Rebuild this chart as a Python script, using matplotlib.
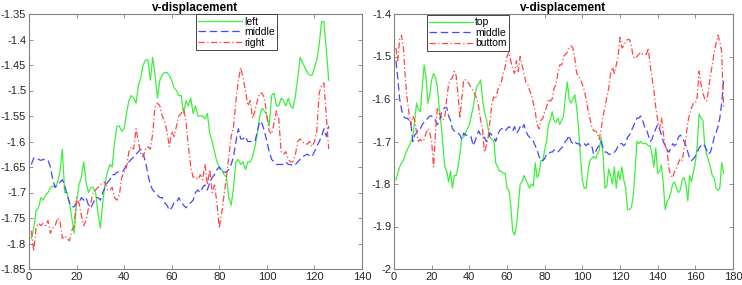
import numpy as np
import matplotlib
matplotlib.use("Agg")
import matplotlib.pyplot as plt

plt.rcParams['font.family'] = ['Liberation Sans', 'DejaVu Sans']

title = "v-displacement"

# ---------------- left panel ----------------
left_labels = ["left", "middle", "right"]
left_green = [-1.79, -1.77, -1.735, -1.73, -1.71, -1.715, -1.705, -1.70, -1.69, -1.687,
              -1.69, -1.68, -1.66, -1.615, -1.70, -1.70, -1.72, -1.75, -1.78, -1.72,
              -1.685, -1.67, -1.64, -1.68, -1.70, -1.69, -1.69, -1.70, -1.74, -1.77,
              -1.72, -1.68, -1.66, -1.645, -1.65, -1.60, -1.57, -1.57, -1.58, -1.575,
              -1.545, -1.52, -1.51, -1.515, -1.525, -1.49, -1.475, -1.45, -1.44, -1.44,
              -1.48, -1.435, -1.47, -1.515, -1.48, -1.47, -1.465, -1.465, -1.47, -1.48,
              -1.495, -1.50, -1.51, -1.51, -1.545, -1.52, -1.53, -1.515, -1.545, -1.53,
              -1.55, -1.55, -1.55, -1.555, -1.545, -1.585, -1.60, -1.62, -1.64, -1.65,
              -1.655, -1.665, -1.67, -1.71, -1.725, -1.69, -1.64, -1.635, -1.645, -1.64,
              -1.655, -1.64, -1.64, -1.63, -1.61, -1.585, -1.55, -1.535, -1.54, -1.55,
              -1.57, -1.51, -1.505, -1.53, -1.53, -1.515, -1.52, -1.53, -1.515, -1.53,
              -1.535, -1.51, -1.475, -1.435, -1.445, -1.455, -1.465, -1.47, -1.47, -1.455,
              -1.44, -1.41, -1.365, -1.365, -1.42, -1.48]
left_blue = [-1.645, -1.632, -1.633, -1.635, -1.637, -1.635, -1.637, -1.637, -1.65, -1.675,
             -1.69, -1.685, -1.68, -1.675, -1.685, -1.705, -1.72, -1.728, -1.728, -1.72,
             -1.72, -1.71, -1.715, -1.71, -1.725, -1.73, -1.72, -1.71, -1.71, -1.715,
             -1.70, -1.69, -1.68, -1.675, -1.665, -1.665, -1.66, -1.66, -1.66, -1.655,
             -1.645, -1.64, -1.635, -1.63, -1.625, -1.62, -1.615, -1.625, -1.64, -1.665,
             -1.685, -1.695, -1.70, -1.705, -1.71, -1.71, -1.72, -1.725, -1.735, -1.73,
             -1.72, -1.72, -1.71, -1.72, -1.725, -1.73, -1.725, -1.72, -1.715, -1.70,
             -1.695, -1.70, -1.69, -1.685, -1.695, -1.68, -1.67, -1.665, -1.655, -1.65,
             -1.66, -1.66, -1.66, -1.655, -1.645, -1.63, -1.60, -1.575, -1.595, -1.595,
             -1.59, -1.60, -1.60, -1.60, -1.60, -1.58, -1.56, -1.565, -1.58, -1.60,
             -1.62, -1.635, -1.64, -1.645, -1.645, -1.645, -1.645, -1.64, -1.645, -1.645,
             -1.648, -1.645, -1.64, -1.635, -1.63, -1.627, -1.625, -1.628, -1.63, -1.62,
             -1.61, -1.60, -1.59, -1.575, -1.59, -1.57]
left_red = [-1.775, -1.815, -1.77, -1.76, -1.765, -1.76, -1.765, -1.755, -1.78, -1.77,
            -1.765, -1.75, -1.755, -1.79, -1.785, -1.79, -1.795, -1.775, -1.765, -1.71,
            -1.72, -1.745, -1.765, -1.755, -1.73, -1.72, -1.70, -1.695, -1.69, -1.685,
            -1.68, -1.68, -1.695, -1.695, -1.69, -1.71, -1.715, -1.705, -1.67, -1.66,
            -1.65, -1.62, -1.61, -1.615, -1.575, -1.60, -1.625, -1.63, -1.615, -1.61,
            -1.615, -1.585, -1.53, -1.525, -1.53, -1.55, -1.56, -1.58, -1.61, -1.58,
            -1.59, -1.57, -1.55, -1.545, -1.535, -1.56, -1.61, -1.65, -1.67, -1.67,
            -1.675, -1.665, -1.675, -1.645, -1.685, -1.655, -1.70, -1.685, -1.72, -1.77,
            -1.74, -1.705, -1.67, -1.63, -1.59, -1.57, -1.52, -1.48, -1.455, -1.475,
            -1.50, -1.53, -1.52, -1.555, -1.54, -1.52, -1.505, -1.505, -1.515, -1.55,
            -1.58, -1.585, -1.565, -1.54, -1.555, -1.62, -1.625, -1.62, -1.635, -1.64,
            -1.64, -1.625, -1.60, -1.595, -1.60, -1.605, -1.605, -1.60, -1.61, -1.60,
            -1.58, -1.505, -1.49, -1.485, -1.55, -1.615]

# ---------------- right panel ----------------
right_labels = ["top", "middle", "buttom"]
right_green = [-1.79, -1.775, -1.76, -1.75, -1.745, -1.73, -1.72, -1.71, -1.70, -1.69,
               -1.65, -1.61, -1.625, -1.63, -1.57, -1.52, -1.55, -1.61, -1.59, -1.555,
               -1.54, -1.55, -1.57, -1.62, -1.66, -1.71, -1.76, -1.77, -1.795, -1.77,
               -1.81, -1.78, -1.78, -1.76, -1.73, -1.69, -1.69, -1.68, -1.67, -1.66,
               -1.64, -1.62, -1.59, -1.57, -1.565, -1.555, -1.60, -1.63, -1.645, -1.67,
               -1.69, -1.695, -1.70, -1.75, -1.76, -1.77, -1.77, -1.775, -1.775, -1.81,
               -1.815, -1.85, -1.91, -1.92, -1.90, -1.85, -1.80, -1.795, -1.78, -1.79,
               -1.80, -1.81, -1.80, -1.805, -1.75, -1.785, -1.775, -1.745, -1.745, -1.72,
               -1.70, -1.66, -1.65, -1.63, -1.65, -1.655, -1.645, -1.66, -1.65, -1.64,
               -1.595, -1.56, -1.60, -1.61, -1.60, -1.59, -1.62, -1.67, -1.735, -1.79,
               -1.81, -1.81, -1.77, -1.745, -1.74, -1.735, -1.74, -1.73, -1.72, -1.69,
               -1.73, -1.81, -1.805, -1.765, -1.78, -1.80, -1.76, -1.81, -1.77, -1.79,
               -1.76, -1.79, -1.81, -1.86, -1.86, -1.855, -1.83, -1.77, -1.70, -1.705,
               -1.70, -1.705, -1.705, -1.705, -1.71, -1.71, -1.73, -1.76, -1.715, -1.775,
               -1.77, -1.755, -1.80, -1.86, -1.84, -1.835, -1.82, -1.80, -1.795, -1.81,
               -1.82, -1.815, -1.79, -1.785, -1.80, -1.84, -1.78, -1.795, -1.77, -1.75,
               -1.71, -1.635, -1.645, -1.65, -1.71, -1.73, -1.745, -1.76, -1.78, -1.785,
               -1.81, -1.815, -1.81, -1.75, -1.775]
right_blue = [-1.51, -1.55, -1.60, -1.625, -1.64, -1.645, -1.645, -1.65, -1.66, -1.70,
              -1.685, -1.68, -1.67, -1.67, -1.66, -1.655, -1.65, -1.645, -1.64, -1.64,
              -1.645, -1.65, -1.66, -1.655, -1.635, -1.625, -1.62, -1.62, -1.64, -1.65,
              -1.67, -1.675, -1.68, -1.68, -1.685, -1.695, -1.68, -1.685, -1.685, -1.685,
              -1.69, -1.71, -1.70, -1.685, -1.675, -1.685, -1.69, -1.69, -1.70, -1.695,
              -1.68, -1.685, -1.69, -1.70, -1.685, -1.675, -1.67, -1.67, -1.675, -1.67,
              -1.665, -1.67, -1.675, -1.665, -1.68, -1.675, -1.665, -1.67, -1.66, -1.675,
              -1.685, -1.69, -1.695, -1.70, -1.71, -1.72, -1.735, -1.745, -1.745, -1.74,
              -1.73, -1.73, -1.725, -1.725, -1.72, -1.72, -1.725, -1.72, -1.715, -1.71,
              -1.70, -1.695, -1.685, -1.70, -1.705, -1.70, -1.705, -1.705, -1.71, -1.705,
              -1.705, -1.71, -1.705, -1.71, -1.71, -1.73, -1.725, -1.715, -1.71, -1.70,
              -1.715, -1.725, -1.725, -1.73, -1.73, -1.73, -1.725, -1.72, -1.71, -1.705,
              -1.705, -1.71, -1.705, -1.69, -1.685, -1.675, -1.665, -1.655, -1.645, -1.645,
              -1.64, -1.65, -1.665, -1.67, -1.685, -1.70, -1.695, -1.68, -1.67, -1.66,
              -1.67, -1.685, -1.70, -1.71, -1.72, -1.725, -1.715, -1.705, -1.71, -1.705,
              -1.69, -1.685, -1.69, -1.70, -1.71, -1.725, -1.74, -1.745, -1.74, -1.735,
              -1.725, -1.715, -1.71, -1.705, -1.71, -1.72, -1.73, -1.725, -1.71, -1.69,
              -1.68, -1.665, -1.645, -1.61, -1.555]
right_red = [-1.48, -1.51, -1.46, -1.45, -1.48, -1.55, -1.60, -1.635, -1.66, -1.64,
             -1.65, -1.68, -1.70, -1.695, -1.70, -1.695, -1.68, -1.67, -1.68, -1.70,
             -1.76, -1.68, -1.62, -1.635, -1.64, -1.65, -1.64, -1.60, -1.565, -1.555,
             -1.55, -1.535, -1.545, -1.59, -1.645, -1.60, -1.555, -1.555, -1.56, -1.565,
             -1.575, -1.58, -1.59, -1.60, -1.62, -1.65, -1.67, -1.725, -1.71, -1.69,
             -1.65, -1.61, -1.595, -1.60, -1.58, -1.57, -1.56, -1.54, -1.525, -1.50,
             -1.49, -1.51, -1.53, -1.54, -1.51, -1.535, -1.50, -1.52, -1.54, -1.56,
             -1.565, -1.58, -1.59, -1.61, -1.63, -1.66, -1.67, -1.65, -1.645, -1.63,
             -1.62, -1.60, -1.605, -1.60, -1.575, -1.565, -1.54, -1.52, -1.52, -1.50,
             -1.495, -1.49, -1.48, -1.475, -1.48, -1.505, -1.54, -1.545, -1.555, -1.565,
             -1.58, -1.60, -1.625, -1.645, -1.665, -1.675, -1.675, -1.68, -1.695, -1.67,
             -1.64, -1.62, -1.595, -1.575, -1.54, -1.525, -1.54, -1.52, -1.50, -1.455,
             -1.48, -1.475, -1.465, -1.46, -1.46, -1.475, -1.50, -1.505, -1.50, -1.495,
             -1.49, -1.495, -1.495, -1.495, -1.48, -1.52, -1.55, -1.58, -1.62, -1.65,
             -1.67, -1.645, -1.68, -1.71, -1.72, -1.765, -1.78, -1.785, -1.77, -1.765,
             -1.75, -1.74, -1.745, -1.72, -1.69, -1.655, -1.635, -1.62, -1.61, -1.61,
             -1.595, -1.535, -1.565, -1.585, -1.60, -1.605, -1.58, -1.545, -1.52, -1.49,
             -1.47, -1.45, -1.465, -1.49, -1.62]

left_xticks = [0, 20, 40, 60, 80, 100, 120, 140]
left_yticks = [-1.85, -1.8, -1.75, -1.7, -1.65, -1.6, -1.55, -1.5, -1.45, -1.4, -1.35]
right_xticks = [0, 20, 40, 60, 80, 100, 120, 140, 160, 180]
right_yticks = [-2, -1.9, -1.8, -1.7, -1.6, -1.5, -1.4]

c_green = '#3cf03c'
c_blue = '#4646ff'
c_red = '#ff4646'
axc = '#808080'

fig = plt.figure(figsize=(7.42, 2.85), dpi=100)
ax1 = fig.add_axes([29/742, 1-269/285, 333/742, 255/285])
ax2 = fig.add_axes([394/742, 1-269/285, 339/742, 255/285])


def fmt(v):
    s = ('%g' % v)
    return s


def style(ax, xt, yt, xlim, ylim):
    ax.set_xlim(*xlim)
    ax.set_ylim(*ylim)
    ax.set_xticks(xt)
    ax.set_yticks(yt)
    ax.set_xticklabels([fmt(v) for v in xt])
    ax.set_yticklabels([fmt(v) for v in yt])
    ax.tick_params(direction='in', top=True, right=True, length=3, width=0.6,
                   colors=axc, labelcolor='#262626', labelsize=8, pad=2)
    for s in ax.spines.values():
        s.set_color(axc)
        s.set_linewidth(0.8)
    ax.set_title(title, fontsize=8.5, fontweight='bold', pad=2)


x1 = np.arange(1, len(left_green) + 1)
ax1.plot(x1, left_green, '-', color=c_green, lw=0.9, label=left_labels[0])
ax1.plot(x1, left_blue, '--', color=c_blue, lw=0.9, dashes=(6, 3), label=left_labels[1])
ax1.plot(x1, left_red, '-.', color=c_red, lw=0.9, dashes=(5, 2, 1, 2), label=left_labels[2])
style(ax1, left_xticks, left_yticks, (0, 140), (-1.85, -1.35))
leg1 = ax1.legend(loc='upper left', bbox_to_anchor=(0.5, 1.0), fontsize=7.5,
                  handlelength=4.2, handletextpad=0.2, borderpad=0.25, labelspacing=0.05,
                  fancybox=False, framealpha=1, borderaxespad=0)
leg1.get_frame().set_edgecolor('#262626')
leg1.get_frame().set_linewidth(0.6)

x2 = np.arange(1, len(right_green) + 1)
ax2.plot(x2, right_green, '-', color=c_green, lw=0.9, label=right_labels[0])
ax2.plot(x2, right_blue, '--', color=c_blue, lw=0.9, dashes=(6, 3), label=right_labels[1])
ax2.plot(x2, right_red, '-.', color=c_red, lw=0.9, dashes=(5, 2, 1, 2), label=right_labels[2])
style(ax2, right_xticks, right_yticks, (0, 180), (-2, -1.4))
leg2 = ax2.legend(loc='upper left', bbox_to_anchor=(0.097, 0.997), fontsize=7.5,
                  handlelength=4.2, handletextpad=0.2, borderpad=0.25, labelspacing=0.05,
                  fancybox=False, framealpha=1, borderaxespad=0)
leg2.get_frame().set_edgecolor('#262626')
leg2.get_frame().set_linewidth(0.6)

fig.savefig('out.png', dpi=100)
